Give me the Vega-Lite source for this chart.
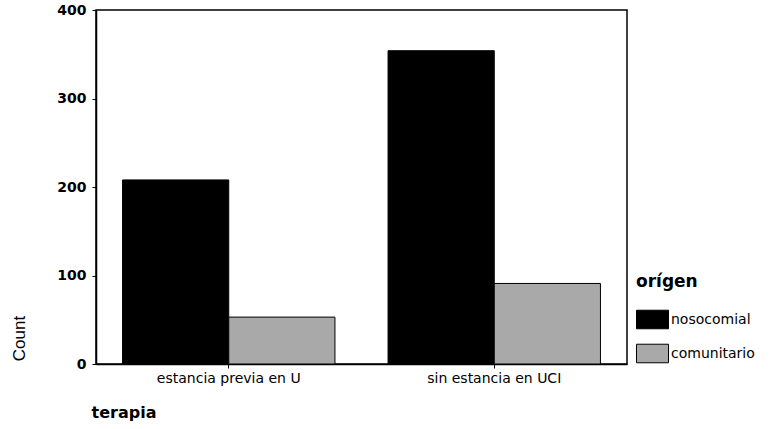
{
  "$schema": "https://vega.github.io/schema/vega-lite/v6.json",
  "width": 531,
  "height": 354,
  "autosize": {"type": "none"},
  "padding": {"left": 96, "top": 10, "right": 143, "bottom": 65},
  "background": "white",
  "config": {
    "view": {"stroke": "black", "strokeWidth": 1.5},
    "font": "DejaVu Sans"
  },
  "data": {
    "values": [
      {"terapia": "estancia previa en U", "origen": "nosocomial", "count": 208},
      {"terapia": "estancia previa en U", "origen": "comunitario", "count": 53},
      {"terapia": "sin estancia en UCI", "origen": "nosocomial", "count": 354},
      {"terapia": "sin estancia en UCI", "origen": "comunitario", "count": 91}
    ]
  },
  "mark": {"type": "bar", "stroke": "black", "strokeWidth": 1},
  "encoding": {
    "x": {
      "field": "terapia",
      "type": "nominal",
      "sort": null,
      "scale": {"paddingInner": 0.2, "paddingOuter": 0.1},
      "axis": {
        "title": "terapia",
        "titleFont": "DejaVu Sans",
        "titleFontSize": 16,
        "titleFontWeight": "bold",
        "titleX": -5,
        "titleY": 48,
        "titleAlign": "left",
        "titleBaseline": "middle",
        "labelAngle": 0,
        "labelFont": "DejaVu Sans",
        "labelFontSize": 14,
        "labelColor": "black",
        "labelPadding": 3,
        "domainColor": "black",
        "domainWidth": 1.5,
        "tickColor": "black",
        "tickSize": 4
      }
    },
    "xOffset": {
      "field": "origen",
      "type": "nominal",
      "sort": ["nosocomial", "comunitario"],
      "scale": {"paddingInner": 0, "paddingOuter": 0}
    },
    "y": {
      "field": "count",
      "type": "quantitative",
      "scale": {"domain": [0, 400], "nice": false},
      "axis": {
        "title": "Count",
        "titleFont": "'Liberation Sans Narrow', 'Liberation Sans'",
        "titleFontSize": 17,
        "titleFontWeight": "normal",
        "titleAngle": 270,
        "titleX": -77,
        "titleY": 328,
        "titleAlign": "center",
        "titleBaseline": "middle",
        "values": [0, 100, 200, 300, 400],
        "grid": false,
        "labelFont": "DejaVu Sans",
        "labelFontSize": 14,
        "labelFontWeight": "bold",
        "labelColor": "black",
        "labelPadding": 6,
        "domainColor": "black",
        "domainWidth": 1.5,
        "tickColor": "black",
        "tickSize": 4
      }
    },
    "fill": {
      "field": "origen",
      "type": "nominal",
      "sort": ["nosocomial", "comunitario"],
      "scale": {"domain": ["nosocomial", "comunitario"], "range": ["#000000", "#a9a9a9"]},
      "legend": {
        "title": "orígen",
        "orient": "none",
        "legendX": 540,
        "legendY": 264,
        "titleFont": "DejaVu Sans",
        "titleFontSize": 17,
        "titleFontWeight": "bold",
        "titleColor": "black",
        "titlePadding": 12,
        "labelFont": "DejaVu Sans",
        "labelFontSize": 14,
        "labelColor": "black",
        "labelOffset": 2,
        "rowPadding": 6,
        "symbolType": "M-1,-0.58H1V0.58H-1Z",
        "symbolSize": 1024,
        "symbolStrokeColor": "black",
        "symbolStrokeWidth": 1,
        "symbolOpacity": 1
      }
    }
  }
}
